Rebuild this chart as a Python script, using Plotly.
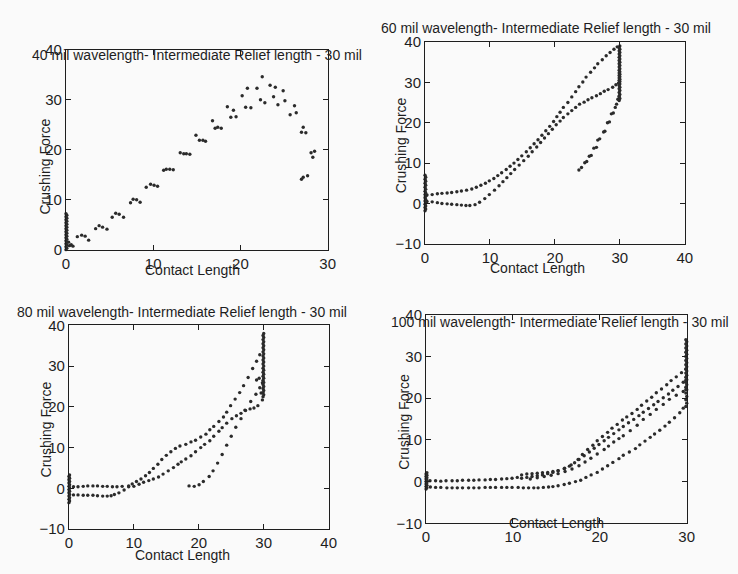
import plotly.graph_objects as go

W, H = 738, 574
FONT = "Liberation Sans, Arial, sans-serif"
INK = "#1e1e1e"
DOT = "#2b2b2b"

# ---------------- data ----------------
# Panel 1 : 40 mil wavelength
p1_bar_x = [0.0, 0.1, 0.0, 0.1, 0.0, 0.1, 0.0, 0.1, 0.0, 0.1, 0.0, 0.1, 0.0, 0.1, 0.0, 0.1, 0.0, 0.1, 0.0, 0.1, 0.0, 0.1, 0.0, 0.1, 0.0]
p1_bar_y = [0.0, 0.3, 0.6, 0.9, 1.2, 1.5, 1.8, 2.1, 2.4, 2.7, 3.0, 3.3, 3.6, 3.9, 4.2, 4.5, 4.8, 5.1, 5.4, 5.7, 6.0, 6.3, 6.6, 6.9, 7.2]
p1_x = [0.3, 0.4, 0.6, 0.8,
        1.3, 1.8, 2.2, 2.6, 3.4, 3.8, 4.2, 4.7, 5.3, 5.7, 6.1, 6.6, 7.4, 7.7, 8.1, 8.5,
        9.2, 9.7, 10.1, 10.5, 11.2, 11.5, 11.9, 12.3, 13.1, 13.5, 13.8, 14.2, 14.9, 15.3, 15.7, 16.0,
        16.8, 17.1, 17.4, 17.8, 18.5, 18.9, 19.2, 19.5, 20.2, 20.6, 20.8, 21.2, 21.9, 22.3, 22.5, 22.8,
        23.4, 23.8, 24.0, 24.3, 24.9, 25.1, 25.7, 26.2, 26.4, 27.0, 27.2, 27.5, 27.0, 27.2, 27.7,
        28.1, 28.3, 28.5]
p1_y = [1.5, 0.8, 1.0, 0.7,
        2.6, 2.9, 2.7, 1.9, 4.2, 4.8, 4.5, 4.1, 6.5, 7.3, 7.1, 6.5, 9.4, 10.1, 10.0, 9.5,
        12.5, 13.1, 12.9, 12.7, 15.9, 16.1, 16.1, 16.0, 19.4, 19.2, 19.2, 19.1, 22.9, 21.9, 21.9, 21.7,
        25.8, 24.3, 24.5, 24.3, 28.6, 26.5, 27.9, 26.6, 30.8, 28.5, 32.3, 28.4, 32.3, 30.0, 34.6, 29.4,
        32.9, 30.6, 32.5, 29.0, 31.8, 29.8, 27.0, 28.8, 27.4, 23.5, 24.5, 23.4, 14.1, 14.5, 14.8,
        19.4, 18.5, 19.7]

# Panel 2 : 60 mil wavelength
p2_a_x = [0.3, 1.1, 1.9, 2.6, 3.4, 4.1, 4.9, 5.6, 6.4, 7.2, 7.9, 8.6, 9.3, 9.9, 10.6, 11.2, 11.8, 12.5, 13.1, 13.7,
          14.3, 14.9, 15.6, 16.2, 16.8, 17.4, 18.0, 18.6, 19.2, 19.8, 20.3, 20.8, 21.3, 22.0, 22.6, 23.2, 23.7, 24.3,
          24.8, 25.5, 26.1, 26.6, 27.3, 27.9, 28.5, 29.1, 29.6]
p2_a_y = [2.1, 2.2, 2.4, 2.5, 2.6, 2.7, 2.9, 3.1, 3.3, 3.6, 4.0, 4.5, 5.0, 5.6, 6.2, 6.9, 7.6, 8.4, 9.2, 10.0,
          10.9, 11.8, 12.8, 13.8, 14.8, 15.8, 16.9, 18.0, 19.1, 20.3, 21.5, 22.6, 23.8, 25.0, 26.4, 27.7, 28.9, 30.1,
          31.3, 32.5, 33.6, 34.6, 35.6, 36.6, 37.4, 38.2, 38.8]
p2_b_x = [0.3, 1.1, 1.9, 2.6, 3.4, 4.1, 4.9, 5.6, 6.3, 6.9, 7.7, 8.4, 9.2, 9.9, 10.7, 11.4, 12.0, 12.6, 13.2, 13.8,
          14.5, 15.2, 15.9, 16.5, 17.2, 17.8, 18.4, 19.0, 19.6, 20.2, 20.8, 21.3, 22.0, 22.6, 23.2, 23.8, 24.5, 25.1,
          25.7, 26.4, 27.0, 27.6, 28.2, 28.9, 29.4, 29.8]
p2_b_y = [0.5, 0.4, 0.2, 0.0, -0.1, -0.2, -0.3, -0.4, -0.5, -0.5, -0.3, 0.3, 1.2, 2.2, 3.3, 4.4, 5.4, 6.4, 7.4, 8.4,
          9.5, 10.6, 11.7, 12.8, 14.0, 15.1, 16.2, 17.3, 18.4, 19.5, 20.4, 21.3, 22.2, 23.0, 23.8, 24.6, 25.1, 25.7,
          26.2, 26.7, 27.2, 27.8, 28.2, 28.8, 29.4, 29.8]
p2_c_x = [23.7, 24.1, 24.6, 24.9, 25.3, 25.6, 26.0, 26.4, 26.6, 26.9, 27.5, 27.7, 28.1, 28.4, 28.7, 29.0, 29.3, 29.5, 29.7, 29.9]
p2_c_y = [8.3, 8.9, 10.1, 10.4, 11.7, 11.9, 13.7, 13.9, 15.7, 16.0, 17.7, 17.9, 20.0, 20.2, 22.2, 22.4, 23.8, 24.6, 25.8, 26.6]
p2_bar0_x = [0.0, 0.1, 0.0, 0.1, 0.0, 0.1, 0.0, 0.1, 0.0, 0.1, 0.0, 0.1, 0.0, 0.1, 0.0, 0.1, 0.0, 0.1, 0.0, 0.1, 0.0]
p2_bar0_y = [-1.8, -1.4, -1.0, -0.6, -0.2, 0.2, 0.6, 1.0, 1.4, 1.8, 2.2, 2.6, 3.0, 3.5, 4.0, 4.5, 5.0, 5.5, 6.0, 6.5, 7.0]
p2_bar30_x = [29.9, 30.0, 29.9, 30.0, 29.9, 30.0, 29.9, 30.0, 29.9, 30.0, 29.9, 30.0, 29.9, 30.0, 29.9, 30.0, 29.9, 30.0,
              29.9, 30.0, 29.9, 30.0, 29.9, 30.0, 29.9, 30.0, 29.9, 30.0, 29.9, 30.0, 29.9, 30.0, 29.9, 30.0, 29.9, 30.0]
p2_bar30_y = [25.5, 26.0, 26.5, 27.0, 27.5, 28.0, 28.4, 28.8, 29.2, 29.6, 29.9, 30.2, 30.5, 30.8, 31.1, 31.4, 31.7, 32.0,
              32.3, 32.6, 33.0, 33.4, 33.8, 34.2, 34.6, 35.0, 35.4, 35.8, 36.2, 36.6, 37.0, 37.4, 37.8, 38.2, 38.6, 39.0]

# Panel 3 : 80 mil wavelength
p3_a_x = [0.7, 1.4, 2.2, 2.9, 3.7, 4.4, 5.2, 5.9, 6.7, 7.4, 8.2, 9.2, 9.75, 10.4, 11.1, 11.8, 12.4, 13.0, 13.7, 14.3,
          15.0, 15.7, 16.4, 17.1, 18.0, 18.8, 19.5, 20.3, 21.1, 21.7, 22.3, 23.1, 23.8, 24.3, 24.9, 25.6, 26.3, 26.9,
          27.6, 28.3, 28.9, 29.4]
p3_a_y = [0.4, 0.4, 0.5, 0.6, 0.6, 0.6, 0.5, 0.5, 0.4, 0.4, 0.5, 0.6, 1.1, 1.7, 2.3, 3.1, 3.9, 4.9, 5.9, 7.1,
          8.1, 9.0, 9.8, 10.4, 10.8, 11.4, 11.8, 12.6, 13.3, 14.4, 15.2, 16.4, 17.5, 18.7, 20.3, 21.9, 23.5, 25.2,
          27.2, 29.4, 31.2, 32.8]
p3_b_x = [0.7, 1.4, 2.2, 2.9, 3.7, 4.4, 5.2, 5.9, 6.5, 7.0, 7.7, 8.5, 9.2, 10.0, 10.8, 11.5, 12.3, 13.0, 13.8, 14.5,
          15.3, 16.1, 16.8, 17.3, 18.0, 18.8, 19.5, 20.3, 20.9, 21.7, 22.3, 23.1, 23.6, 24.3, 25.1, 25.8, 26.5, 27.1,
          27.9, 28.5, 29.1, 29.8]
p3_b_y = [-1.6, -1.6, -1.7, -1.7, -1.7, -1.8, -1.9, -1.9, -1.8, -1.5, -1.1, -0.4, 0.4, 0.5, 1.0, 1.5, 1.9, 2.3, 2.8, 3.5,
          4.3, 5.1, 5.9, 6.5, 7.2, 8.0, 9.0, 10.0, 10.8, 11.7, 12.8, 14.0, 14.9, 16.0, 17.1, 17.8, 18.4, 19.2,
          19.5, 19.7, 20.3, 21.7]
p3_c_x = [18.5, 19.3, 20.05, 20.7, 21.6, 22.2, 22.9, 23.6, 24.3, 25.0, 25.7, 26.5, 27.2, 28.0, 28.8, 29.4, 29.8, 28.9, 29.3, 29.6]
p3_c_y = [0.6, 0.5, 0.9, 1.7, 2.9, 4.3, 6.2, 8.3, 10.6, 12.8, 15.0, 17.1, 19.1, 21.3, 23.1, 24.7, 25.9, 26.6, 27.0, 23.4]
p3_bar0_x = [0.0, 0.1, 0.0, 0.1, 0.0, 0.1, 0.0, 0.1, 0.0, 0.1, 0.0, 0.1, 0.0, 0.1, 0.0, 0.1, 0.0, 0.1]
p3_bar0_y = [-3.5, -3.1, -2.7, -2.3, -1.9, -1.5, -1.1, -0.7, -0.3, 0.1, 0.5, 0.9, 1.3, 1.7, 2.1, 2.5, 2.9, 3.3]
p3_bar30_x = [29.9, 30.0, 29.9, 30.0, 29.9, 30.0, 29.9, 30.0, 29.9, 30.0, 29.9, 30.0, 29.9, 30.0, 29.9, 30.0,
              29.9, 30.0, 29.9, 30.0, 29.9, 30.0, 29.9, 30.0, 29.9, 30.0, 29.9, 30.0, 29.9, 30.0, 29.9, 30.0]
p3_bar30_y = [22.5, 23.0, 23.5, 24.0, 24.5, 25.0, 25.5, 26.0, 26.5, 27.0, 27.5, 28.0, 28.5, 29.0, 29.5, 30.0,
              30.5, 31.0, 31.5, 32.0, 32.5, 33.0, 33.5, 34.0, 34.5, 35.0, 35.5, 36.0, 36.5, 37.0, 37.5, 38.0]

# Panel 4 : 100 mil wavelength
p4_u_x = [0.46, 1.1, 1.7, 2.3, 3.0, 3.6, 4.2, 4.9, 5.5, 6.1, 6.8, 7.4, 8.0, 8.7, 9.3, 9.9, 10.5]
p4_u_y = [0.2, 0.2, 0.1, 0.2, 0.2, 0.2, 0.3, 0.3, 0.3, 0.4, 0.4, 0.5, 0.5, 0.6, 0.7, 0.8, 1.0]
p4_d_x = [0.5, 1.1, 1.7, 2.4, 3.0, 3.6, 4.2, 4.9, 5.5, 6.1, 6.8, 7.4, 8.0, 8.7, 9.3, 9.9, 10.6, 11.2, 11.8, 12.4,
          12.9, 13.5, 14.1, 14.6, 15.2, 15.9, 16.5, 17.2, 17.8, 18.4, 19.0, 19.7, 20.3, 20.9, 21.5, 22.2, 22.7, 23.4,
          24.1, 24.6, 25.2, 25.8, 26.3, 26.9, 27.5, 28.0, 28.6, 29.2, 29.6]
p4_d_y = [-1.3, -1.4, -1.4, -1.5, -1.5, -1.5, -1.5, -1.5, -1.5, -1.5, -1.4, -1.4, -1.4, -1.4, -1.4, -1.4, -1.4, -1.5, -1.5, -1.5,
          -1.5, -1.4, -1.3, -1.2, -1.0, -0.7, -0.4, 0.0, 0.3, 1.0, 1.6, 2.2, 3.0, 3.8, 4.6, 5.5, 6.3, 7.1,
          7.9, 8.8, 9.7, 10.6, 11.4, 12.3, 13.3, 14.2, 15.3, 16.5, 17.6]
p4_e_x = [11.0, 11.6, 12.2, 12.8, 13.4, 14.0, 14.6, 15.2, 15.95, 16.7, 17.5, 18.0, 18.6, 19.2, 19.7, 20.3, 20.9, 21.4,
          22.0, 22.6, 23.1, 23.7, 24.3, 24.8, 25.4, 25.97, 26.5, 27.1, 27.7, 28.2, 28.8, 29.4, 29.9]
p4_e_y = [1.6, 1.8, 1.9, 2.0, 2.1, 2.2, 2.4, 2.6, 3.2, 4.0, 5.3, 6.5, 7.7, 8.7, 9.8, 10.8, 11.8, 12.8,
          13.7, 14.75, 15.5, 16.3, 17.3, 18.3, 19.3, 20.2, 21.3, 22.2, 23.2, 24.2, 25.1, 26.1, 26.9]
p4_f_x = [11.0, 11.6, 12.2, 12.8, 13.4, 14.0, 14.6, 15.2, 15.9, 16.5, 17.1, 17.6, 18.2, 18.8, 19.35, 19.9, 20.5,
          21.0, 21.6, 22.2, 22.7, 23.3, 23.9, 24.5, 25.0, 25.6, 26.2, 26.7, 27.3, 27.9, 28.4, 29.0, 29.6, 29.9]
p4_f_y = [0.8, 1.0, 1.2, 1.4, 1.6, 1.9, 2.2, 2.6, 3.1, 3.7, 4.5, 5.3, 6.2, 7.1, 8.0, 8.9, 9.8,
          10.6, 11.5, 12.4, 13.2, 14.1, 14.9, 15.8, 16.6, 17.5, 18.4, 19.2, 20.1, 21.0, 21.9, 22.8, 23.8, 24.3]
p4_g_x = [12.0, 12.8, 13.6, 14.4, 15.2, 16.0, 16.8, 17.6, 18.3, 18.97, 19.7, 20.5, 21.0, 21.6, 22.2, 22.7, 23.5,
          24.3, 25.0, 25.8, 26.5, 27.3, 28.0, 28.8, 29.6, 29.9]
p4_g_y = [0.6, 0.9, 1.2, 1.5, 1.9, 2.4, 3.0, 3.8, 4.7, 5.6, 6.6, 7.7, 8.5, 9.5, 10.3, 11.0, 12.2,
          13.5, 14.9, 16.1, 17.3, 18.5, 19.7, 20.7, 21.6, 22.0]
p4_bar0_x = [0.0, 0.1, 0.0, 0.1, 0.0, 0.1, 0.0, 0.1, 0.0, 0.1, 0.0, 0.1, 0.0, 0.1]
p4_bar0_y = [-1.8, -1.5, -1.2, -0.9, -0.6, -0.3, 0.0, 0.3, 0.6, 0.9, 1.2, 1.5, 1.8, 2.1]
p4_bar30_x = [29.9, 30.0, 29.9, 30.0, 29.9, 30.0, 29.9, 30.0, 29.9, 30.0, 29.9, 30.0, 29.9, 30.0, 29.9,
              30.0, 29.9, 30.0, 29.9, 30.0, 29.9, 30.0, 29.9, 30.0, 29.9, 30.0, 29.9, 30.0, 29.9]
p4_bar30_y = [18.0, 18.8, 19.6, 20.4, 21.2, 22.0, 22.6, 23.2, 23.8, 24.4, 25.0, 25.5, 26.0, 26.5, 27.0,
              27.5, 28.0, 28.5, 29.0, 29.5, 30.0, 30.5, 31.0, 31.5, 32.0, 32.5, 33.0, 33.5, 34.0]

titles = ["40 mil wavelength- Intermediate Relief length - 30 mil",
          "60 mil wavelength- Intermediate Relief length - 30 mil",
          "80 mil wavelength- Intermediate Relief length - 30 mil",
          "100 mil wavelength- Intermediate Relief length - 30 mil"]
x_label = "Contact Length"
y_label = "Crushing Force"
x_ranges = [[0, 30], [0, 40], [0, 40], [0, 30]]
y_ranges = [[0, 40], [-10, 40], [-10, 40], [-10, 40]]
x_ticks = [[0, 10, 20, 30], [0, 10, 20, 30, 40], [0, 10, 20, 30, 40], [0, 10, 20, 30]]
y_ticks = [[0, 10, 20, 30, 40], [-10, 0, 10, 20, 30, 40], [-10, 0, 10, 20, 30, 40], [-10, 0, 10, 20, 30, 40]]

panels = [
    [(p1_bar_x, p1_bar_y), (p1_x, p1_y)],
    [(p2_a_x, p2_a_y), (p2_b_x, p2_b_y), (p2_c_x, p2_c_y), (p2_bar0_x, p2_bar0_y), (p2_bar30_x, p2_bar30_y)],
    [(p3_a_x, p3_a_y), (p3_b_x, p3_b_y), (p3_c_x, p3_c_y), (p3_bar0_x, p3_bar0_y), (p3_bar30_x, p3_bar30_y)],
    [(p4_u_x, p4_u_y), (p4_d_x, p4_d_y), (p4_e_x, p4_e_y), (p4_f_x, p4_f_y), (p4_g_x, p4_g_y),
     (p4_bar0_x, p4_bar0_y), (p4_bar30_x, p4_bar30_y)],
]

# ---------------- layout (page pixel positions) ----------------
boxes = [(63, 329, 42, 248), (428, 692, 34, 242), (66, 330, 326, 536), (429, 694, 315, 530)]
title_pos = [(196, 47), (551, 20), (181, 312), (565, 323)]
xlab_pos = [(192, 269), (542, 267), (181, 563), (562, 530)]
ylab_pos = [(42, 162), (403, 140), (43, 433), (407, 425)]


def px(v):
    return v / W


def py(v):
    return 1 - v / H


fig = go.Figure()
layout = dict(width=W, height=H, margin=dict(l=0, r=0, t=0, b=0),
              paper_bgcolor="#fafafa", plot_bgcolor="#fafafa", showlegend=False,
              font=dict(family=FONT, color=INK), hovermode=False)
annotations = []

for i, series in enumerate(panels):
    n = i + 1
    xa = "x" if n == 1 else f"x{n}"
    ya = "y" if n == 1 else f"y{n}"
    for sx, sy in series:
        fig.add_trace(go.Scatter(x=sx, y=sy, mode="markers", xaxis=xa, yaxis=ya,
                                 marker=dict(size=3.4, color=DOT), cliponaxis=False,
                                 hoverinfo="skip"))
    l, r, t, b = boxes[i]
    common = dict(showline=True, linecolor=INK, linewidth=1, mirror="ticks",
                  ticks="inside", ticklen=5, tickcolor=INK, showgrid=False, zeroline=False,
                  tickfont=dict(size=15, family=FONT, color=INK), tickmode="array")
    suffix = "" if n == 1 else str(n)
    layout["xaxis" + suffix] = dict(domain=[px(l), px(r)], anchor=ya, range=x_ranges[i],
                                    tickvals=x_ticks[i], **common)
    layout["yaxis" + suffix] = dict(domain=[py(b), py(t)], anchor=xa, range=y_ranges[i],
                                    tickvals=y_ticks[i], **common)
    tx, ty = title_pos[i]
    annotations.append(dict(text=titles[i], x=px(tx), y=py(ty), xref="paper", yref="paper",
                            xanchor="center", yanchor="middle", showarrow=False,
                            font=dict(size=14, family=FONT, color=INK)))
    lx, ly = xlab_pos[i]
    annotations.append(dict(text=x_label, x=px(lx), y=py(ly), xref="paper", yref="paper",
                            xanchor="center", yanchor="middle", showarrow=False,
                            font=dict(size=14, family=FONT, color=INK)))
    qx, qy = ylab_pos[i]
    annotations.append(dict(text=y_label, x=px(qx), y=py(qy), xref="paper", yref="paper",
                            xanchor="center", yanchor="middle", showarrow=False, textangle=-90,
                            font=dict(size=14, family=FONT, color=INK)))

layout["annotations"] = annotations
fig.update_layout(**layout)
fig.write_html("out.html", config={"displayModeBar": False, "staticPlot": True},
               post_script="document.body.style.margin='0';document.body.style.overflow='hidden';")
